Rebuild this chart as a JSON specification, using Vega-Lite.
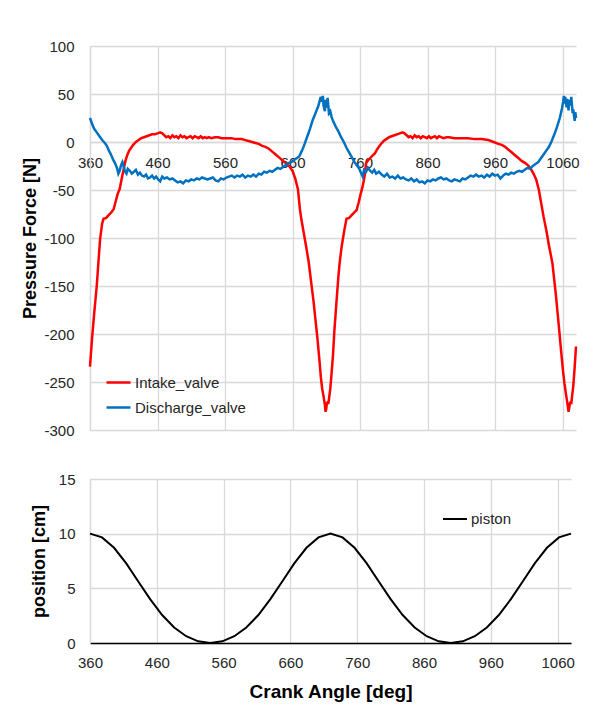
{
  "$schema": "https://vega.github.io/schema/vega-lite/v6.json",
  "background": "white",
  "padding": {"left": 21, "top": 39, "right": 10, "bottom": 5},
  "spacing": 34,
  "resolve": {"scale": {"color": "independent"}, "legend": {"color": "independent"}},
  "config": {
    "view": {"stroke": null},
    "font": "Liberation Sans",
    "axis": {
      "labelFont": "Liberation Sans",
      "labelFontSize": 15,
      "labelColor": "#262626",
      "labelExpr": "'' + datum.value",
      "titleFont": "Liberation Sans",
      "titleFontWeight": "bold",
      "titleFontSize": 18,
      "titleColor": "#000000",
      "gridColor": "#d9d9d9",
      "gridWidth": 1.3,
      "domainColor": "#d9d9d9",
      "domainWidth": 1.3,
      "ticks": false
    },
    "legend": {
      "labelFont": "Liberation Sans",
      "labelFontSize": 15,
      "labelColor": "#262626",
      "symbolType": "stroke",
      "symbolSize": 576,
      "symbolStrokeWidth": 2.5,
      "labelOffset": 3,
      "rowPadding": 3
    }
  },
  "datasets": {
    "valves": [
      {"angle":360,"force":-234,"series":"Intake_valve"},{"angle":363,"force":-205,"series":"Intake_valve"},{"angle":366,"force":-180,"series":"Intake_valve"},{"angle":370,"force":-150,"series":"Intake_valve"},{"angle":373,"force":-120,"series":"Intake_valve"},{"angle":375,"force":-101,"series":"Intake_valve"},{"angle":378,"force":-85,"series":"Intake_valve"},{"angle":380,"force":-80,"series":"Intake_valve"},{"angle":384,"force":-79,"series":"Intake_valve"},{"angle":388,"force":-76,"series":"Intake_valve"},{"angle":392,"force":-73,"series":"Intake_valve"},{"angle":395,"force":-70,"series":"Intake_valve"},{"angle":398,"force":-62,"series":"Intake_valve"},{"angle":401,"force":-54,"series":"Intake_valve"},{"angle":404,"force":-49,"series":"Intake_valve"},{"angle":407,"force":-38,"series":"Intake_valve"},{"angle":410,"force":-28,"series":"Intake_valve"},{"angle":412,"force":-21,"series":"Intake_valve"},{"angle":415,"force":-14,"series":"Intake_valve"},{"angle":418,"force":-9,"series":"Intake_valve"},{"angle":421,"force":-6,"series":"Intake_valve"},{"angle":424,"force":-3,"series":"Intake_valve"},{"angle":428,"force":0,"series":"Intake_valve"},{"angle":432,"force":2,"series":"Intake_valve"},{"angle":436,"force":4,"series":"Intake_valve"},{"angle":440,"force":5,"series":"Intake_valve"},{"angle":444,"force":6,"series":"Intake_valve"},{"angle":448,"force":7,"series":"Intake_valve"},{"angle":452,"force":8,"series":"Intake_valve"},{"angle":456,"force":8,"series":"Intake_valve"},{"angle":460,"force":9,"series":"Intake_valve"},{"angle":464,"force":10,"series":"Intake_valve"},{"angle":467,"force":9,"series":"Intake_valve"},{"angle":470,"force":7,"series":"Intake_valve"},{"angle":473,"force":5,"series":"Intake_valve"},{"angle":476,"force":6,"series":"Intake_valve"},{"angle":479,"force":4,"series":"Intake_valve"},{"angle":482,"force":7,"series":"Intake_valve"},{"angle":485,"force":5,"series":"Intake_valve"},{"angle":488,"force":6,"series":"Intake_valve"},{"angle":491,"force":4,"series":"Intake_valve"},{"angle":494,"force":7,"series":"Intake_valve"},{"angle":497,"force":5,"series":"Intake_valve"},{"angle":500,"force":6,"series":"Intake_valve"},{"angle":503,"force":4,"series":"Intake_valve"},{"angle":506,"force":5,"series":"Intake_valve"},{"angle":509,"force":6,"series":"Intake_valve"},{"angle":512,"force":4,"series":"Intake_valve"},{"angle":515,"force":6,"series":"Intake_valve"},{"angle":518,"force":5,"series":"Intake_valve"},{"angle":521,"force":4,"series":"Intake_valve"},{"angle":524,"force":6,"series":"Intake_valve"},{"angle":527,"force":4,"series":"Intake_valve"},{"angle":530,"force":5,"series":"Intake_valve"},{"angle":533,"force":4,"series":"Intake_valve"},{"angle":536,"force":5,"series":"Intake_valve"},{"angle":540,"force":4,"series":"Intake_valve"},{"angle":545,"force":5,"series":"Intake_valve"},{"angle":550,"force":5,"series":"Intake_valve"},{"angle":555,"force":4,"series":"Intake_valve"},{"angle":560,"force":4,"series":"Intake_valve"},{"angle":565,"force":4,"series":"Intake_valve"},{"angle":570,"force":4,"series":"Intake_valve"},{"angle":575,"force":3,"series":"Intake_valve"},{"angle":580,"force":3,"series":"Intake_valve"},{"angle":585,"force":3,"series":"Intake_valve"},{"angle":590,"force":2,"series":"Intake_valve"},{"angle":595,"force":1,"series":"Intake_valve"},{"angle":600,"force":0,"series":"Intake_valve"},{"angle":605,"force":-1,"series":"Intake_valve"},{"angle":610,"force":-2,"series":"Intake_valve"},{"angle":615,"force":-4,"series":"Intake_valve"},{"angle":620,"force":-5,"series":"Intake_valve"},{"angle":625,"force":-7,"series":"Intake_valve"},{"angle":630,"force":-10,"series":"Intake_valve"},{"angle":635,"force":-13,"series":"Intake_valve"},{"angle":640,"force":-16,"series":"Intake_valve"},{"angle":645,"force":-19,"series":"Intake_valve"},{"angle":650,"force":-22,"series":"Intake_valve"},{"angle":655,"force":-25,"series":"Intake_valve"},{"angle":660,"force":-30,"series":"Intake_valve"},{"angle":664,"force":-38,"series":"Intake_valve"},{"angle":668,"force":-49,"series":"Intake_valve"},{"angle":671,"force":-70,"series":"Intake_valve"},{"angle":673,"force":-80,"series":"Intake_valve"},{"angle":676,"force":-92,"series":"Intake_valve"},{"angle":680,"force":-108,"series":"Intake_valve"},{"angle":684,"force":-125,"series":"Intake_valve"},{"angle":688,"force":-148,"series":"Intake_valve"},{"angle":691,"force":-165,"series":"Intake_valve"},{"angle":694,"force":-185,"series":"Intake_valve"},{"angle":697,"force":-205,"series":"Intake_valve"},{"angle":700,"force":-228,"series":"Intake_valve"},{"angle":702,"force":-245,"series":"Intake_valve"},{"angle":704,"force":-257,"series":"Intake_valve"},{"angle":706,"force":-265,"series":"Intake_valve"},{"angle":708,"force":-274,"series":"Intake_valve"},{"angle":709,"force":-281,"series":"Intake_valve"},{"angle":710,"force":-278,"series":"Intake_valve"},{"angle":711,"force":-272,"series":"Intake_valve"},{"angle":712,"force":-271,"series":"Intake_valve"},{"angle":713,"force":-273,"series":"Intake_valve"},{"angle":714,"force":-268,"series":"Intake_valve"},{"angle":716,"force":-257,"series":"Intake_valve"},{"angle":718,"force":-240,"series":"Intake_valve"},{"angle":720,"force":-222,"series":"Intake_valve"},{"angle":722,"force":-197,"series":"Intake_valve"},{"angle":725,"force":-168,"series":"Intake_valve"},{"angle":728,"force":-140,"series":"Intake_valve"},{"angle":730,"force":-125,"series":"Intake_valve"},{"angle":733,"force":-108,"series":"Intake_valve"},{"angle":737,"force":-91,"series":"Intake_valve"},{"angle":740,"force":-80,"series":"Intake_valve"},{"angle":744,"force":-79,"series":"Intake_valve"},{"angle":748,"force":-76,"series":"Intake_valve"},{"angle":752,"force":-73,"series":"Intake_valve"},{"angle":755,"force":-71,"series":"Intake_valve"},{"angle":758,"force":-63,"series":"Intake_valve"},{"angle":761,"force":-54,"series":"Intake_valve"},{"angle":764,"force":-46,"series":"Intake_valve"},{"angle":767,"force":-35,"series":"Intake_valve"},{"angle":769,"force":-22,"series":"Intake_valve"},{"angle":772,"force":-19,"series":"Intake_valve"},{"angle":776,"force":-16,"series":"Intake_valve"},{"angle":779,"force":-14,"series":"Intake_valve"},{"angle":782,"force":-12,"series":"Intake_valve"},{"angle":785,"force":-8,"series":"Intake_valve"},{"angle":788,"force":-5,"series":"Intake_valve"},{"angle":791,"force":-2,"series":"Intake_valve"},{"angle":795,"force":1,"series":"Intake_valve"},{"angle":799,"force":3,"series":"Intake_valve"},{"angle":803,"force":5,"series":"Intake_valve"},{"angle":807,"force":6,"series":"Intake_valve"},{"angle":811,"force":7,"series":"Intake_valve"},{"angle":815,"force":8,"series":"Intake_valve"},{"angle":819,"force":9,"series":"Intake_valve"},{"angle":823,"force":10,"series":"Intake_valve"},{"angle":826,"force":9,"series":"Intake_valve"},{"angle":829,"force":7,"series":"Intake_valve"},{"angle":832,"force":5,"series":"Intake_valve"},{"angle":835,"force":6,"series":"Intake_valve"},{"angle":838,"force":4,"series":"Intake_valve"},{"angle":841,"force":7,"series":"Intake_valve"},{"angle":844,"force":5,"series":"Intake_valve"},{"angle":847,"force":6,"series":"Intake_valve"},{"angle":850,"force":4,"series":"Intake_valve"},{"angle":853,"force":6,"series":"Intake_valve"},{"angle":856,"force":5,"series":"Intake_valve"},{"angle":859,"force":4,"series":"Intake_valve"},{"angle":862,"force":6,"series":"Intake_valve"},{"angle":865,"force":4,"series":"Intake_valve"},{"angle":868,"force":5,"series":"Intake_valve"},{"angle":871,"force":6,"series":"Intake_valve"},{"angle":874,"force":4,"series":"Intake_valve"},{"angle":877,"force":6,"series":"Intake_valve"},{"angle":880,"force":5,"series":"Intake_valve"},{"angle":884,"force":4,"series":"Intake_valve"},{"angle":888,"force":5,"series":"Intake_valve"},{"angle":892,"force":5,"series":"Intake_valve"},{"angle":900,"force":4,"series":"Intake_valve"},{"angle":910,"force":4,"series":"Intake_valve"},{"angle":920,"force":4,"series":"Intake_valve"},{"angle":930,"force":3,"series":"Intake_valve"},{"angle":940,"force":3,"series":"Intake_valve"},{"angle":950,"force":2,"series":"Intake_valve"},{"angle":958,"force":0,"series":"Intake_valve"},{"angle":965,"force":-2,"series":"Intake_valve"},{"angle":970,"force":-3,"series":"Intake_valve"},{"angle":975,"force":-5,"series":"Intake_valve"},{"angle":980,"force":-8,"series":"Intake_valve"},{"angle":985,"force":-11,"series":"Intake_valve"},{"angle":990,"force":-14,"series":"Intake_valve"},{"angle":995,"force":-17,"series":"Intake_valve"},{"angle":1000,"force":-20,"series":"Intake_valve"},{"angle":1005,"force":-22,"series":"Intake_valve"},{"angle":1010,"force":-25,"series":"Intake_valve"},{"angle":1013,"force":-28,"series":"Intake_valve"},{"angle":1017,"force":-33,"series":"Intake_valve"},{"angle":1021,"force":-39,"series":"Intake_valve"},{"angle":1025,"force":-50,"series":"Intake_valve"},{"angle":1028,"force":-62,"series":"Intake_valve"},{"angle":1032,"force":-78,"series":"Intake_valve"},{"angle":1036,"force":-92,"series":"Intake_valve"},{"angle":1040,"force":-108,"series":"Intake_valve"},{"angle":1045,"force":-126,"series":"Intake_valve"},{"angle":1050,"force":-158,"series":"Intake_valve"},{"angle":1055,"force":-195,"series":"Intake_valve"},{"angle":1058,"force":-218,"series":"Intake_valve"},{"angle":1061,"force":-240,"series":"Intake_valve"},{"angle":1063,"force":-252,"series":"Intake_valve"},{"angle":1065,"force":-262,"series":"Intake_valve"},{"angle":1067,"force":-271,"series":"Intake_valve"},{"angle":1069,"force":-281,"series":"Intake_valve"},{"angle":1070,"force":-277,"series":"Intake_valve"},{"angle":1071,"force":-272,"series":"Intake_valve"},{"angle":1072,"force":-271,"series":"Intake_valve"},{"angle":1073,"force":-273,"series":"Intake_valve"},{"angle":1074,"force":-266,"series":"Intake_valve"},{"angle":1076,"force":-254,"series":"Intake_valve"},{"angle":1078,"force":-235,"series":"Intake_valve"},{"angle":1080,"force":-213,"series":"Intake_valve"},
      {"angle":360,"force":25,"series":"Discharge_valve"},{"angle":363,"force":19,"series":"Discharge_valve"},{"angle":366,"force":14,"series":"Discharge_valve"},{"angle":370,"force":10,"series":"Discharge_valve"},{"angle":374,"force":6,"series":"Discharge_valve"},{"angle":378,"force":2,"series":"Discharge_valve"},{"angle":382,"force":-1,"series":"Discharge_valve"},{"angle":385,"force":-4,"series":"Discharge_valve"},{"angle":388,"force":-9,"series":"Discharge_valve"},{"angle":391,"force":-13,"series":"Discharge_valve"},{"angle":394,"force":-18,"series":"Discharge_valve"},{"angle":397,"force":-22,"series":"Discharge_valve"},{"angle":400,"force":-27,"series":"Discharge_valve"},{"angle":402,"force":-33,"series":"Discharge_valve"},{"angle":404,"force":-30,"series":"Discharge_valve"},{"angle":406,"force":-24,"series":"Discharge_valve"},{"angle":408,"force":-21,"series":"Discharge_valve"},{"angle":410,"force":-26,"series":"Discharge_valve"},{"angle":412,"force":-31,"series":"Discharge_valve"},{"angle":414,"force":-33,"series":"Discharge_valve"},{"angle":416,"force":-28,"series":"Discharge_valve"},{"angle":419,"force":-30,"series":"Discharge_valve"},{"angle":422,"force":-33,"series":"Discharge_valve"},{"angle":425,"force":-31,"series":"Discharge_valve"},{"angle":428,"force":-29,"series":"Discharge_valve"},{"angle":431,"force":-34,"series":"Discharge_valve"},{"angle":434,"force":-32,"series":"Discharge_valve"},{"angle":437,"force":-35,"series":"Discharge_valve"},{"angle":440,"force":-36,"series":"Discharge_valve"},{"angle":443,"force":-34,"series":"Discharge_valve"},{"angle":446,"force":-38,"series":"Discharge_valve"},{"angle":449,"force":-37,"series":"Discharge_valve"},{"angle":452,"force":-35,"series":"Discharge_valve"},{"angle":455,"force":-38,"series":"Discharge_valve"},{"angle":458,"force":-36,"series":"Discharge_valve"},{"angle":461,"force":-39,"series":"Discharge_valve"},{"angle":464,"force":-41,"series":"Discharge_valve"},{"angle":467,"force":-36,"series":"Discharge_valve"},{"angle":470,"force":-38,"series":"Discharge_valve"},{"angle":474,"force":-37,"series":"Discharge_valve"},{"angle":478,"force":-39,"series":"Discharge_valve"},{"angle":482,"force":-38,"series":"Discharge_valve"},{"angle":486,"force":-40,"series":"Discharge_valve"},{"angle":490,"force":-42,"series":"Discharge_valve"},{"angle":494,"force":-41,"series":"Discharge_valve"},{"angle":498,"force":-43,"series":"Discharge_valve"},{"angle":502,"force":-40,"series":"Discharge_valve"},{"angle":506,"force":-41,"series":"Discharge_valve"},{"angle":510,"force":-39,"series":"Discharge_valve"},{"angle":514,"force":-40,"series":"Discharge_valve"},{"angle":518,"force":-38,"series":"Discharge_valve"},{"angle":522,"force":-39,"series":"Discharge_valve"},{"angle":526,"force":-37,"series":"Discharge_valve"},{"angle":530,"force":-38,"series":"Discharge_valve"},{"angle":534,"force":-39,"series":"Discharge_valve"},{"angle":538,"force":-38,"series":"Discharge_valve"},{"angle":542,"force":-37,"series":"Discharge_valve"},{"angle":546,"force":-40,"series":"Discharge_valve"},{"angle":550,"force":-41,"series":"Discharge_valve"},{"angle":554,"force":-38,"series":"Discharge_valve"},{"angle":558,"force":-39,"series":"Discharge_valve"},{"angle":562,"force":-37,"series":"Discharge_valve"},{"angle":566,"force":-36,"series":"Discharge_valve"},{"angle":570,"force":-35,"series":"Discharge_valve"},{"angle":574,"force":-37,"series":"Discharge_valve"},{"angle":578,"force":-35,"series":"Discharge_valve"},{"angle":582,"force":-36,"series":"Discharge_valve"},{"angle":586,"force":-34,"series":"Discharge_valve"},{"angle":590,"force":-37,"series":"Discharge_valve"},{"angle":594,"force":-35,"series":"Discharge_valve"},{"angle":598,"force":-36,"series":"Discharge_valve"},{"angle":602,"force":-34,"series":"Discharge_valve"},{"angle":606,"force":-36,"series":"Discharge_valve"},{"angle":610,"force":-33,"series":"Discharge_valve"},{"angle":614,"force":-34,"series":"Discharge_valve"},{"angle":618,"force":-31,"series":"Discharge_valve"},{"angle":622,"force":-32,"series":"Discharge_valve"},{"angle":626,"force":-30,"series":"Discharge_valve"},{"angle":630,"force":-31,"series":"Discharge_valve"},{"angle":634,"force":-29,"series":"Discharge_valve"},{"angle":638,"force":-27,"series":"Discharge_valve"},{"angle":642,"force":-28,"series":"Discharge_valve"},{"angle":646,"force":-26,"series":"Discharge_valve"},{"angle":650,"force":-24,"series":"Discharge_valve"},{"angle":654,"force":-22,"series":"Discharge_valve"},{"angle":658,"force":-21,"series":"Discharge_valve"},{"angle":662,"force":-19,"series":"Discharge_valve"},{"angle":666,"force":-17,"series":"Discharge_valve"},{"angle":670,"force":-15,"series":"Discharge_valve"},{"angle":674,"force":-9,"series":"Discharge_valve"},{"angle":678,"force":-2,"series":"Discharge_valve"},{"angle":682,"force":6,"series":"Discharge_valve"},{"angle":686,"force":14,"series":"Discharge_valve"},{"angle":690,"force":23,"series":"Discharge_valve"},{"angle":694,"force":30,"series":"Discharge_valve"},{"angle":698,"force":37,"series":"Discharge_valve"},{"angle":700,"force":42,"series":"Discharge_valve"},{"angle":702,"force":47,"series":"Discharge_valve"},{"angle":703,"force":42,"series":"Discharge_valve"},{"angle":705,"force":48,"series":"Discharge_valve"},{"angle":706,"force":38,"series":"Discharge_valve"},{"angle":708,"force":32,"series":"Discharge_valve"},{"angle":709,"force":44,"series":"Discharge_valve"},{"angle":711,"force":36,"series":"Discharge_valve"},{"angle":712,"force":46,"series":"Discharge_valve"},{"angle":714,"force":30,"series":"Discharge_valve"},{"angle":716,"force":32,"series":"Discharge_valve"},{"angle":718,"force":26,"series":"Discharge_valve"},{"angle":720,"force":22,"series":"Discharge_valve"},{"angle":724,"force":16,"series":"Discharge_valve"},{"angle":728,"force":11,"series":"Discharge_valve"},{"angle":732,"force":5,"series":"Discharge_valve"},{"angle":736,"force":0,"series":"Discharge_valve"},{"angle":740,"force":-6,"series":"Discharge_valve"},{"angle":744,"force":-11,"series":"Discharge_valve"},{"angle":748,"force":-16,"series":"Discharge_valve"},{"angle":752,"force":-21,"series":"Discharge_valve"},{"angle":756,"force":-25,"series":"Discharge_valve"},{"angle":759,"force":-28,"series":"Discharge_valve"},{"angle":762,"force":-33,"series":"Discharge_valve"},{"angle":764,"force":-36,"series":"Discharge_valve"},{"angle":766,"force":-29,"series":"Discharge_valve"},{"angle":769,"force":-31,"series":"Discharge_valve"},{"angle":772,"force":-27,"series":"Discharge_valve"},{"angle":775,"force":-30,"series":"Discharge_valve"},{"angle":778,"force":-32,"series":"Discharge_valve"},{"angle":781,"force":-29,"series":"Discharge_valve"},{"angle":784,"force":-33,"series":"Discharge_valve"},{"angle":788,"force":-31,"series":"Discharge_valve"},{"angle":792,"force":-34,"series":"Discharge_valve"},{"angle":796,"force":-36,"series":"Discharge_valve"},{"angle":800,"force":-33,"series":"Discharge_valve"},{"angle":804,"force":-37,"series":"Discharge_valve"},{"angle":808,"force":-36,"series":"Discharge_valve"},{"angle":812,"force":-38,"series":"Discharge_valve"},{"angle":816,"force":-35,"series":"Discharge_valve"},{"angle":820,"force":-38,"series":"Discharge_valve"},{"angle":824,"force":-37,"series":"Discharge_valve"},{"angle":828,"force":-39,"series":"Discharge_valve"},{"angle":832,"force":-40,"series":"Discharge_valve"},{"angle":836,"force":-38,"series":"Discharge_valve"},{"angle":840,"force":-41,"series":"Discharge_valve"},{"angle":844,"force":-39,"series":"Discharge_valve"},{"angle":848,"force":-42,"series":"Discharge_valve"},{"angle":852,"force":-41,"series":"Discharge_valve"},{"angle":856,"force":-43,"series":"Discharge_valve"},{"angle":860,"force":-40,"series":"Discharge_valve"},{"angle":864,"force":-41,"series":"Discharge_valve"},{"angle":868,"force":-39,"series":"Discharge_valve"},{"angle":872,"force":-40,"series":"Discharge_valve"},{"angle":876,"force":-38,"series":"Discharge_valve"},{"angle":880,"force":-37,"series":"Discharge_valve"},{"angle":884,"force":-39,"series":"Discharge_valve"},{"angle":888,"force":-38,"series":"Discharge_valve"},{"angle":892,"force":-40,"series":"Discharge_valve"},{"angle":896,"force":-41,"series":"Discharge_valve"},{"angle":900,"force":-39,"series":"Discharge_valve"},{"angle":904,"force":-40,"series":"Discharge_valve"},{"angle":908,"force":-41,"series":"Discharge_valve"},{"angle":912,"force":-38,"series":"Discharge_valve"},{"angle":916,"force":-39,"series":"Discharge_valve"},{"angle":920,"force":-37,"series":"Discharge_valve"},{"angle":924,"force":-35,"series":"Discharge_valve"},{"angle":928,"force":-36,"series":"Discharge_valve"},{"angle":932,"force":-34,"series":"Discharge_valve"},{"angle":936,"force":-36,"series":"Discharge_valve"},{"angle":940,"force":-35,"series":"Discharge_valve"},{"angle":944,"force":-37,"series":"Discharge_valve"},{"angle":948,"force":-34,"series":"Discharge_valve"},{"angle":952,"force":-36,"series":"Discharge_valve"},{"angle":956,"force":-33,"series":"Discharge_valve"},{"angle":960,"force":-35,"series":"Discharge_valve"},{"angle":964,"force":-34,"series":"Discharge_valve"},{"angle":968,"force":-38,"series":"Discharge_valve"},{"angle":972,"force":-35,"series":"Discharge_valve"},{"angle":976,"force":-33,"series":"Discharge_valve"},{"angle":980,"force":-34,"series":"Discharge_valve"},{"angle":984,"force":-32,"series":"Discharge_valve"},{"angle":988,"force":-33,"series":"Discharge_valve"},{"angle":992,"force":-31,"series":"Discharge_valve"},{"angle":996,"force":-30,"series":"Discharge_valve"},{"angle":1000,"force":-31,"series":"Discharge_valve"},{"angle":1004,"force":-29,"series":"Discharge_valve"},{"angle":1008,"force":-27,"series":"Discharge_valve"},{"angle":1012,"force":-28,"series":"Discharge_valve"},{"angle":1016,"force":-25,"series":"Discharge_valve"},{"angle":1020,"force":-23,"series":"Discharge_valve"},{"angle":1024,"force":-21,"series":"Discharge_valve"},{"angle":1028,"force":-17,"series":"Discharge_valve"},{"angle":1032,"force":-13,"series":"Discharge_valve"},{"angle":1036,"force":-9,"series":"Discharge_valve"},{"angle":1040,"force":-5,"series":"Discharge_valve"},{"angle":1044,"force":1,"series":"Discharge_valve"},{"angle":1048,"force":8,"series":"Discharge_valve"},{"angle":1052,"force":16,"series":"Discharge_valve"},{"angle":1056,"force":25,"series":"Discharge_valve"},{"angle":1059,"force":34,"series":"Discharge_valve"},{"angle":1061,"force":42,"series":"Discharge_valve"},{"angle":1062,"force":48,"series":"Discharge_valve"},{"angle":1063,"force":40,"series":"Discharge_valve"},{"angle":1064,"force":47,"series":"Discharge_valve"},{"angle":1066,"force":36,"series":"Discharge_valve"},{"angle":1067,"force":45,"series":"Discharge_valve"},{"angle":1069,"force":33,"series":"Discharge_valve"},{"angle":1070,"force":44,"series":"Discharge_valve"},{"angle":1072,"force":38,"series":"Discharge_valve"},{"angle":1073,"force":47,"series":"Discharge_valve"},{"angle":1075,"force":30,"series":"Discharge_valve"},{"angle":1076,"force":34,"series":"Discharge_valve"},{"angle":1078,"force":22,"series":"Discharge_valve"},{"angle":1079,"force":31,"series":"Discharge_valve"},{"angle":1080,"force":25,"series":"Discharge_valve"}
    ],
    "piston": [
      {"angle":360,"position":10,"series":"piston"},{"angle":378,"position":9.66,"series":"piston"},{"angle":396,"position":8.71,"series":"piston"},{"angle":414,"position":7.3,"series":"piston"},{"angle":432,"position":5.65,"series":"piston"},{"angle":450,"position":4.01,"series":"piston"},{"angle":468,"position":2.56,"series":"piston"},{"angle":486,"position":1.42,"series":"piston"},{"angle":504,"position":0.62,"series":"piston"},{"angle":522,"position":0.15,"series":"piston"},{"angle":540,"position":0,"series":"piston"},{"angle":558,"position":0.15,"series":"piston"},{"angle":576,"position":0.62,"series":"piston"},{"angle":594,"position":1.42,"series":"piston"},{"angle":612,"position":2.56,"series":"piston"},{"angle":630,"position":4.01,"series":"piston"},{"angle":648,"position":5.65,"series":"piston"},{"angle":666,"position":7.3,"series":"piston"},{"angle":684,"position":8.71,"series":"piston"},{"angle":702,"position":9.66,"series":"piston"},{"angle":720,"position":10,"series":"piston"},{"angle":738,"position":9.66,"series":"piston"},{"angle":756,"position":8.71,"series":"piston"},{"angle":774,"position":7.3,"series":"piston"},{"angle":792,"position":5.65,"series":"piston"},{"angle":810,"position":4.01,"series":"piston"},{"angle":828,"position":2.56,"series":"piston"},{"angle":846,"position":1.42,"series":"piston"},{"angle":864,"position":0.62,"series":"piston"},{"angle":882,"position":0.15,"series":"piston"},{"angle":900,"position":0,"series":"piston"},{"angle":918,"position":0.15,"series":"piston"},{"angle":936,"position":0.62,"series":"piston"},{"angle":954,"position":1.42,"series":"piston"},{"angle":972,"position":2.56,"series":"piston"},{"angle":990,"position":4.01,"series":"piston"},{"angle":1008,"position":5.65,"series":"piston"},{"angle":1026,"position":7.3,"series":"piston"},{"angle":1044,"position":8.71,"series":"piston"},{"angle":1062,"position":9.66,"series":"piston"},{"angle":1080,"position":10,"series":"piston"}
    ]
  },
  "vconcat": [
    {
      "width": 486,
      "height": 384,
      "data": {"name": "valves"},
      "mark": {"type": "line", "strokeWidth": 2.5},
      "encoding": {
        "x": {
          "field": "angle", "type": "quantitative",
          "scale": {"domain": [360, 1080], "nice": false, "zero": false},
          "axis": {"values": [360, 460, 560, 660, 760, 860, 960, 1060], "title": null, "offset": -288, "labelPadding": 13, "labelFlush": false, "labelOverlap": false, "labelBound": false}
        },
        "y": {
          "field": "force", "type": "quantitative",
          "scale": {"domain": [-300, 100], "nice": false, "zero": false},
          "axis": {"values": [-300, -250, -200, -150, -100, -50, 0, 50, 100], "title": "Pressure Force [N]", "labelPadding": 16, "titlePadding": 4}
        },
        "color": {
          "field": "series", "type": "nominal",
          "scale": {"domain": ["Intake_valve", "Discharge_valve"], "range": ["#ff0000", "#0070c0"]},
          "legend": {"title": null, "orient": "none", "legendX": 15, "legendY": 323}
        }
      }
    },
    {
      "width": 481,
      "height": 164,
      "data": {"name": "piston"},
      "mark": {"type": "line", "strokeWidth": 2},
      "encoding": {
        "x": {
          "field": "angle", "type": "quantitative",
          "scale": {"domain": [360, 1080], "nice": false, "zero": false},
          "axis": {"values": [360, 460, 560, 660, 760, 860, 960, 1060], "title": "Crank Angle [deg]", "titleFontSize": 19, "domainColor": "#000000", "domainWidth": 1.5, "labelPadding": 12, "titlePadding": 12, "labelFlush": false, "labelOverlap": false, "labelBound": false}
        },
        "y": {
          "field": "position", "type": "quantitative",
          "scale": {"domain": [0, 15], "nice": false},
          "axis": {"values": [0, 5, 10, 15], "title": "position [cm]", "labelPadding": 15, "titlePadding": 10}
        },
        "color": {
          "field": "series", "type": "nominal",
          "scale": {"domain": ["piston"], "range": ["#000000"]},
          "legend": {"title": null, "orient": "none", "legendX": 352, "legendY": 27, "symbolStrokeWidth": 2}
        }
      }
    }
  ]
}
